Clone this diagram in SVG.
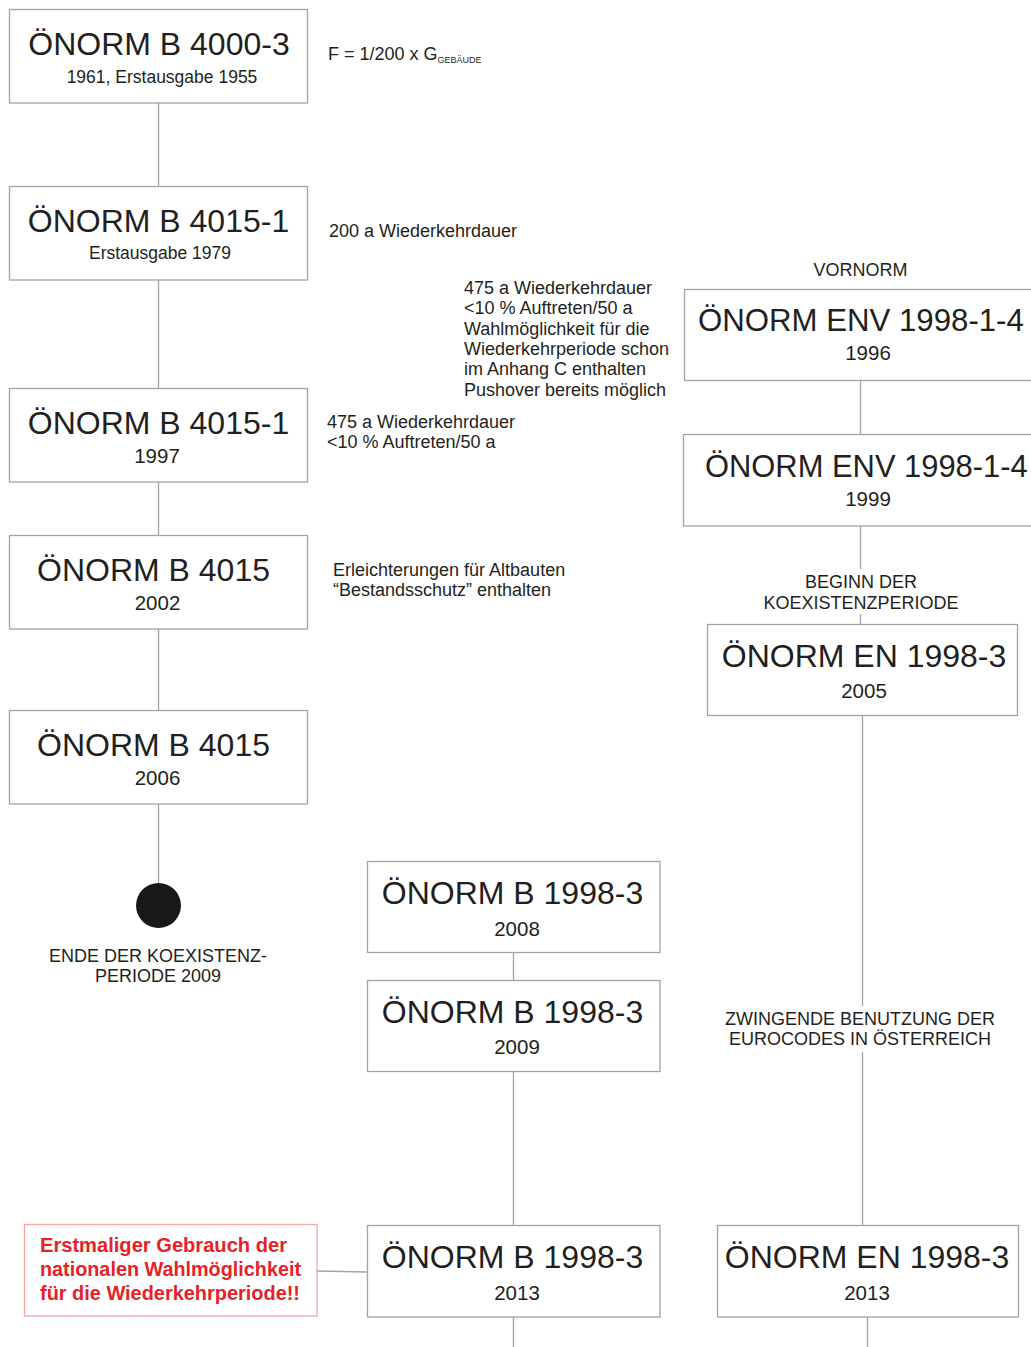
<svg xmlns="http://www.w3.org/2000/svg" width="1031" height="1347" viewBox="0 0 1031 1347">
<style>
text{font-family:"Liberation Sans",Arial,sans-serif;fill:#231f20}
.box{fill:#fff;stroke:#a3a3a3;stroke-width:1.3}
.t{font-size:32px;text-anchor:middle}
.s{font-size:17.5px;text-anchor:middle}
.y{font-size:20.5px;text-anchor:middle}
.n{font-size:18px}
.c{font-size:18px;text-anchor:middle}
.ln{stroke:#a3a3a3;stroke-width:1.3;fill:none}
.red{font-size:19.5px;font-weight:bold;fill:#e52228}
</style>
<rect width="1031" height="1347" fill="#fff"/>
<g id="connectors">
<line class="ln" x1="158.5" y1="103" x2="158.5" y2="186"/>
<line class="ln" x1="158.5" y1="280" x2="158.5" y2="388"/>
<line class="ln" x1="158.5" y1="482" x2="158.5" y2="535"/>
<line class="ln" x1="158.5" y1="629" x2="158.5" y2="710"/>
<line class="ln" x1="158.5" y1="804" x2="158.5" y2="885"/>
<line class="ln" x1="860.5" y1="380" x2="860.5" y2="434"/>
<line class="ln" x1="860.5" y1="526" x2="860.5" y2="569"/>
<line class="ln" x1="860.5" y1="614" x2="860.5" y2="624"/>
<line class="ln" x1="862.5" y1="715" x2="862.5" y2="1006"/>
<line class="ln" x1="862.5" y1="1052" x2="862.5" y2="1225"/>
<line class="ln" x1="867.5" y1="1317" x2="867.5" y2="1347"/>
<line class="ln" x1="513.5" y1="952" x2="513.5" y2="980"/>
<line class="ln" x1="513.5" y1="1071" x2="513.5" y2="1225"/>
<line class="ln" x1="513.5" y1="1317" x2="513.5" y2="1347"/>
<line class="ln" x1="317" y1="1271" x2="367" y2="1272"/>
</g>
<g id="n-b4000-3"><rect class="box" x="9.5" y="9.5" width="298" height="93.5"/><text class="t" x="159" y="55">ÖNORM B 4000-3</text><text class="s" x="162" y="83">1961, Erstausgabe 1955</text></g>
<g id="n-b4015-1-1979"><rect class="box" x="9.5" y="186.5" width="298" height="93.5"/><text class="t" x="158.5" y="232">ÖNORM B 4015-1</text><text class="s" x="160" y="259">Erstausgabe 1979</text></g>
<g id="n-b4015-1-1997"><rect class="box" x="9.5" y="388.5" width="298" height="93.5"/><text class="t" x="158.5" y="434">ÖNORM B 4015-1</text><text class="y" x="157" y="463">1997</text></g>
<g id="n-b4015-2002"><rect class="box" x="9.5" y="535.5" width="298" height="93.5"/><text class="t" x="153.5" y="581">ÖNORM B 4015</text><text class="y" x="157.5" y="610">2002</text></g>
<g id="n-b4015-2006"><rect class="box" x="9.5" y="710.5" width="298" height="93.5"/><text class="t" x="153.5" y="756">ÖNORM B 4015</text><text class="y" x="157.5" y="785">2006</text></g>
<g id="n-end"><circle cx="158.5" cy="905.5" r="22.5" fill="#1a1717"/><text class="c" x="158" y="962">ENDE DER KOEXISTENZ-</text><text class="c" x="158" y="982">PERIODE 2009</text></g>
<g id="notes">
<text class="n" x="328" y="60">F = 1/200 x G<tspan font-size="9px" dy="3">GEBÄUDE</tspan></text>
<text class="n" x="329" y="237">200 a Wiederkehrdauer</text>
<text class="n" x="464"><tspan x="464" y="294">475 a Wiederkehrdauer</tspan><tspan x="464" y="314">&lt;10 % Auftreten/50 a</tspan><tspan x="464" y="334.5">Wahlmöglichkeit für die</tspan><tspan x="464" y="355">Wiederkehrperiode schon</tspan><tspan x="464" y="375">im Anhang C enthalten</tspan><tspan x="464" y="395.5">Pushover bereits möglich</tspan></text>
<text class="n"><tspan x="327" y="428">475 a Wiederkehrdauer</tspan><tspan x="327" y="448">&lt;10 % Auftreten/50 a</tspan></text>
<text class="n"><tspan x="333" y="576">Erleichterungen für Altbauten</tspan><tspan x="333" y="596">“Bestandsschutz” enthalten</tspan></text>
<text class="c" x="860.5" y="276">VORNORM</text>
<text class="c" x="861" y="588">BEGINN DER</text>
<text class="c" x="861" y="609">KOEXISTENZPERIODE</text>
<text class="c" x="860" y="1025">ZWINGENDE BENUTZUNG DER</text>
<text class="c" x="860" y="1045">EUROCODES IN ÖSTERREICH</text>
</g>
<g id="n-env-1996"><rect class="box" x="684.5" y="289.5" width="360" height="91"/><text x="698" y="331" font-size="31.2px">ÖNORM ENV 1998-1-4</text><text class="y" x="868" y="360">1996</text></g>
<g id="n-env-1999"><rect class="box" x="683.5" y="434.5" width="370" height="91.5"/><text x="705" y="477" font-size="30.9px">ÖNORM ENV 1998-1-4</text><text class="y" x="868" y="506">1999</text></g>
<g id="n-en-2005"><rect class="box" x="707.5" y="624.5" width="310" height="91"/><text class="t" x="864" y="667" font-size="31.5px">ÖNORM EN 1998-3</text><text class="y" x="864" y="698">2005</text></g>
<g id="n-en-2013"><rect class="box" x="717.5" y="1225.5" width="301" height="91.5"/><text class="t" x="867" y="1268" font-size="31.5px">ÖNORM EN 1998-3</text><text class="y" x="867" y="1300">2013</text></g>
<g id="n-b1998-2008"><rect class="box" x="367.5" y="861.5" width="292.5" height="91"/><text class="t" x="512.5" y="904" font-size="31.3px">ÖNORM B 1998-3</text><text class="y" x="517" y="936">2008</text></g>
<g id="n-b1998-2009"><rect class="box" x="367.5" y="980.5" width="292.5" height="91"/><text class="t" x="512.5" y="1023" font-size="31.3px">ÖNORM B 1998-3</text><text class="y" x="517" y="1054">2009</text></g>
<g id="n-b1998-2013"><rect class="box" x="367.5" y="1225.5" width="292.5" height="91.5"/><text class="t" x="512.5" y="1268" font-size="31.3px">ÖNORM B 1998-3</text><text class="y" x="517" y="1300">2013</text></g>
<g id="n-red"><rect x="24.5" y="1224.5" width="292.5" height="91.5" fill="#fff" stroke="#f3a6a6" stroke-width="1.3"/><text class="red"><tspan x="40" y="1252" textLength="247" lengthAdjust="spacingAndGlyphs">Erstmaliger Gebrauch der</tspan><tspan x="40" y="1276" textLength="261" lengthAdjust="spacingAndGlyphs">nationalen Wahlmöglichkeit</tspan><tspan x="40" y="1300" textLength="260" lengthAdjust="spacingAndGlyphs">für die Wiederkehrperiode!!</tspan></text></g>
</svg>
